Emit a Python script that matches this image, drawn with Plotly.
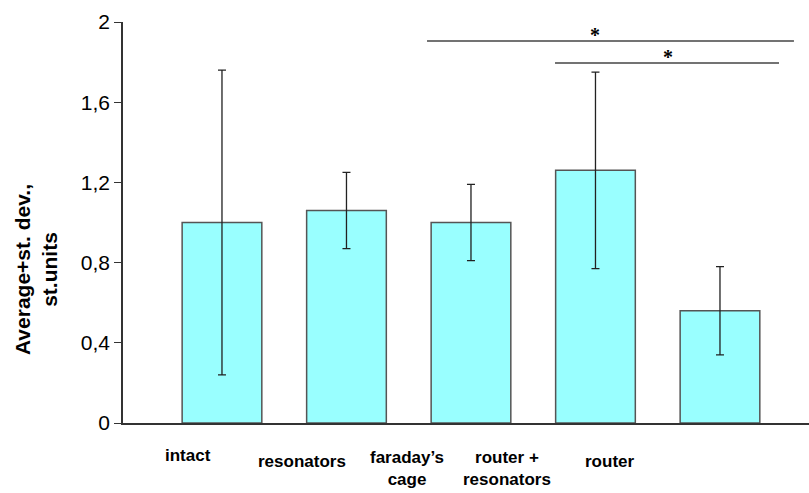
import plotly.graph_objects as go

categories = ["intact", "resonators", "faraday’s<br>cage", "router +<br>resonators", "router"]
means = [1.00, 1.06, 1.00, 1.26, 0.56]
sds = [0.76, 0.19, 0.19, 0.49, 0.22]
# label anchor positions (category units) and vertical offsets (paper units)
label_x = [-0.27, 0.64, 1.49, 2.29, 3.12]
label_y = [-0.08, -0.095, -0.1135, -0.1135, -0.095]
y_ticks = [0, 0.4, 0.8, 1.2, 1.6, 2.0]
y_tick_text = ["0", "0,4", "0,8", "1,2", "1,6", "2"]
# significance brackets: (x0, x1, y, star_x, star_y)
sig_lines = [(1.647, 4.594, 1.905, 3.0, 1.935), (2.675, 4.474, 1.796, 3.58, 1.826)]

x_pos = list(range(len(categories)))

fig = go.Figure()
fig.add_trace(go.Bar(
    x=x_pos, y=means, width=0.64,
    marker=dict(color="#99FFFF", line=dict(color="#555555", width=1.5)),
    error_y=dict(type="data", array=sds, visible=True, color="#222222", thickness=1.3, width=4),
    showlegend=False,
))

for x0, x1, y, sx, sy in sig_lines:
    fig.add_shape(type="line", xref="x", yref="y", x0=x0, x1=x1, y0=y, y1=y,
                  line=dict(color="#444444", width=1.5))
    fig.add_annotation(x=sx, y=sy, xref="x", yref="y", text="<b>*</b>", showarrow=False,
                       font=dict(family="Liberation Serif", size=20, color="#000000"),
                       yanchor="middle")

for lab, lx, ly in zip(categories, label_x, label_y):
    fig.add_annotation(x=lx, y=ly, xref="x", yref="paper", text="<b>" + lab + "</b>",
                       showarrow=False, yanchor="middle",
                       font=dict(family="Liberation Sans, Arial", size=17, color="#000000"))

fig.add_annotation(x=-0.1268, y=0.3815, xref="paper", yref="paper",
                   text="<b>Average+st. dev.,<br>st.units</b>", textangle=-90,
                   showarrow=False, xanchor="center", yanchor="middle",
                   font=dict(family="Liberation Sans, Arial", size=21, color="#000000"))

fig.update_layout(
    width=809, height=493,
    margin=dict(l=123, r=0, t=22, b=70),
    plot_bgcolor="white", paper_bgcolor="white",
    font=dict(family="Liberation Sans, Arial", color="#000000"),
)
fig.update_xaxes(range=[-0.795, 4.715], showticklabels=False, ticks="",
                 showline=True, linecolor="#333333", linewidth=1.5,
                 showgrid=False, zeroline=False)
fig.update_yaxes(range=[0, 2], tickvals=y_ticks, ticktext=y_tick_text,
                 ticks="outside", ticklen=7, tickwidth=1.3, tickcolor="#333333",
                 showline=True, linecolor="#333333", linewidth=1.5,
                 showgrid=False, zeroline=False,
                 tickfont=dict(family="Liberation Sans, Arial", size=21, color="#000000"))

fig.write_html("out.html", config={"displayModeBar": False},
               post_script="document.body.style.margin='0';document.body.style.overflow='hidden';")
